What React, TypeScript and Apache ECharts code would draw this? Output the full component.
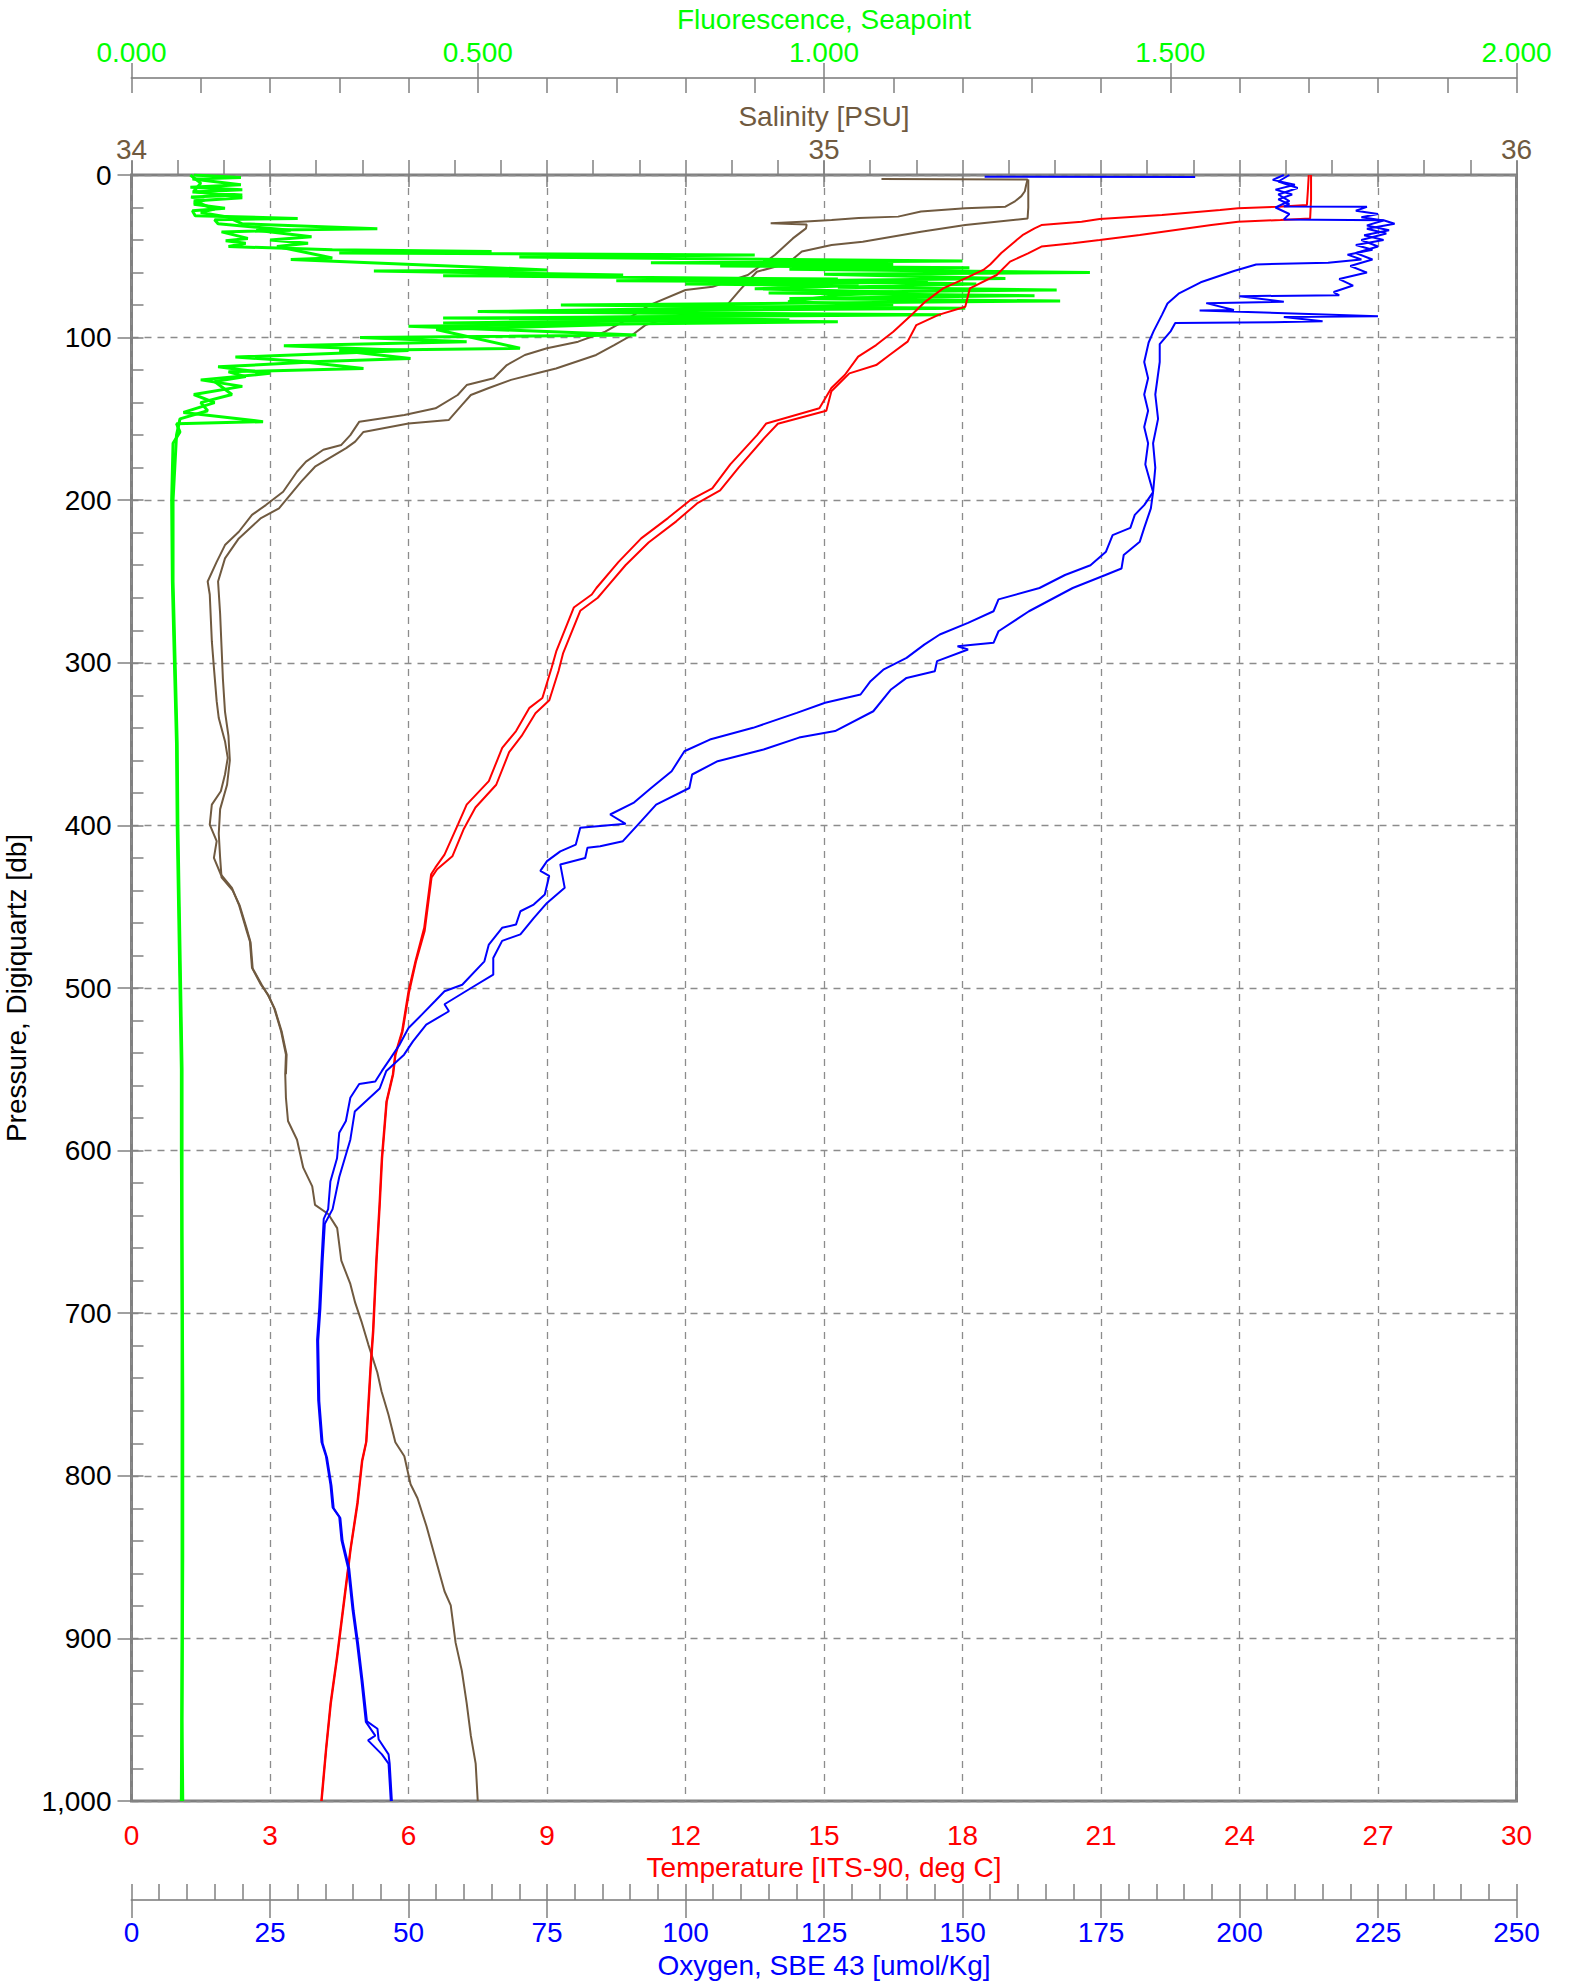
import React, { useEffect, useRef } from "react";
import * as echarts from "echarts";

// ---- Axis ranges ----
const TEMP_RANGE = [0, 30];
const OXY_RANGE = [0, 250];
const SAL_RANGE = [34, 36];
const FLU_RANGE = [0, 2];
const PRES_RANGE = [0, 1000];

// ---- Series data: [value, pressure] ----
const TEMP_DOWN: number[][] = [
  [25.5, 0], [25.48, 10], [25.46, 18.5], [24.84, 19.5], [23.97, 20.5], [23.58, 21.5], [22.32, 24.6], [20.97, 27],
  [20.58, 28.7], [19.71, 30.8], [19.56, 32.8], [19.3, 37], [19.13, 41], [18.84, 48], [18.6, 55], [18.45, 58.4],
  [18.06, 63.6], [17.58, 69.7], [17.19, 78], [16.9, 86], [16.5, 96.4], [16.13, 104.6], [15.74, 111.7], [15.45, 123],
  [15.16, 131], [14.9, 143.5], [13.75, 152.8], [13.55, 160], [12.97, 178], [12.58, 192.7], [12.1, 200], [11.62, 211],
  [11.04, 223.5], [10.55, 237.9], [10.07, 254], [9.97, 258], [9.58, 266], [9.2, 293], [9.1, 303], [8.9, 321.6],
  [8.62, 327.7], [8.33, 342], [8.03, 352.3], [7.74, 372.8], [7.26, 387.2], [7.07, 399.5], [6.78, 418], [6.58, 426],
  [6.49, 430], [6.34, 463], [6.15, 483.6], [6.0, 502], [5.86, 526.6], [5.71, 541], [5.66, 553], [5.52, 570],
  [5.42, 604.7], [5.37, 633], [5.3, 667.7], [5.23, 710.7], [5.18, 730.7], [5.08, 779.4], [4.99, 790.9], [4.89, 816.7],
  [4.74, 845.3], [4.6, 876.8], [4.45, 911], [4.31, 939.8], [4.21, 968.4], [4.11, 1000],
];
const TEMP_UP: number[][] = [
  [25.55, 0], [25.55, 15], [25.53, 26.7], [24.89, 27.7], [23.97, 28.7], [23.39, 30.8], [21.84, 36.9], [20.97, 40],
  [20.39, 42], [19.71, 44], [19.42, 48.2], [19.03, 53.3], [18.74, 61.5], [18.16, 69.7], [18.06, 81], [17.48, 86],
  [17.0, 92.3], [16.81, 102.5], [16.42, 110.7], [16.13, 116.9], [15.55, 122], [15.16, 133], [15.05, 145], [14.0, 153],
  [13.7, 162], [13.15, 180], [12.75, 194], [12.25, 202], [11.8, 213], [11.2, 226], [10.7, 240], [10.25, 255],
  [10.1, 260], [9.72, 268], [9.35, 294], [9.25, 305], [9.05, 323], [8.75, 331], [8.45, 345], [8.18, 355],
  [7.9, 375], [7.45, 389], [7.2, 402], [6.95, 419], [6.62, 427], [6.5, 432], [6.35, 465], [6.16, 484], [6.01, 503],
  [5.87, 527], [5.72, 541], [5.67, 553], [5.53, 570], [5.43, 605], [5.38, 633], [5.31, 668], [5.24, 711], [5.19, 731],
  [5.09, 779], [5.0, 791], [4.9, 817], [4.75, 845], [4.61, 877], [4.46, 911], [4.32, 940], [4.22, 968], [4.12, 1000],
];

const OXY_SURFACE: number[][] = [[154, 1], [192, 1.3]];
const OXY_DOWN: number[][] = [
  [208, 0], [206, 3], [210, 6], [206.5, 9], [209.5, 12], [207, 15], [209, 18], [208, 19.3], [223, 19.6], [221, 22],
  [225, 24], [222, 26], [226, 28], [223, 31], [227, 34], [222.5, 37], [226, 40], [221, 43], [224, 46], [219.5, 49],
  [222, 52], [216, 54], [203, 55], [199, 59], [193, 66], [189, 73], [187, 79], [186, 86], [184.5, 96], [183.6, 103],
  [182.8, 115], [183.5, 125], [182.8, 135], [183.5, 145], [182.8, 155], [183.5, 165], [183, 178], [184.4, 195],
  [182.8, 203], [181.1, 209], [180.3, 217], [177.1, 221.5], [175.9, 231.7], [173.1, 240], [168.5, 246], [163.9, 254],
  [156.5, 261], [155.6, 268.3], [151, 275.4], [145.9, 282.6], [143.1, 288.8], [139.9, 297], [135.8, 304],
  [133.4, 311.3], [131.6, 319.5], [125.2, 324.6], [120.1, 330.8], [112.2, 340], [104.4, 347.2], [99.8, 354.4],
  [97.5, 366.7], [93.8, 377], [90.6, 386.2], [86.4, 393.3], [89.2, 399], [81, 401.5], [80.2, 411.8], [77.4, 416],
  [75, 422], [73.8, 428], [75.4, 431], [74.6, 442.5], [72.6, 448.7], [70.2, 452.8], [69.4, 461], [66.9, 463],
  [64.5, 473.3], [63.7, 483.6], [59.7, 498], [56.5, 502], [54.8, 508], [52.4, 516.4], [50, 524.6], [48.4, 534.8],
  [46.8, 543], [45.2, 551], [44, 557.5], [41.1, 559], [39.5, 567.5], [38.7, 581.8], [37.5, 589], [37.1, 604.7],
  [35.9, 619], [35.5, 636], [34.7, 642], [34.3, 667.7], [33.9, 696.4], [33.5, 716.4], [33.7, 753.7], [34.3, 779.4],
  [35.1, 788], [35.9, 805.2], [36.3, 819.5], [37.5, 825.3], [37.9, 839.6], [39.1, 856.8], [39.9, 882.5],
  [40.7, 902.6], [41.5, 925.5], [42.3, 951.3], [44, 959.8], [42.7, 962.7], [45.2, 971.3], [46.4, 977], [46.8, 1000],
];
const OXY_UP: number[][] = [
  [209, 0], [207, 4], [210.5, 8], [207, 12], [209, 16], [206.5, 20], [209, 24], [208, 27.3], [226, 27.8], [228, 30],
  [223, 33], [226.5, 36], [222, 40], [225, 44], [221, 48], [224, 52], [220, 56], [223, 60], [218, 64], [220.5, 68],
  [217, 72], [218, 74], [200, 74.5], [208, 78], [194, 78.8], [199, 83], [192.8, 83.3], [225, 86.8], [208, 87.3],
  [215, 90], [206, 90.5], [188.4, 91], [187.6, 96], [185.6, 104], [185.6, 115], [184.8, 135], [185.3, 150],
  [184.4, 165], [184.8, 180], [184.4, 195], [184, 205], [182.8, 217], [182, 225.5], [179.1, 233.7], [178.7, 242],
  [175.8, 246], [169.9, 254], [162, 268.3], [156.5, 280.6], [155.6, 287.7], [149.1, 289.8], [151, 291.8],
  [145.4, 299], [145, 305.2], [139.9, 309.3], [137.1, 316.4], [133.9, 329.8], [127, 342], [120.5, 346],
  [114.1, 353.3], [105.8, 360.5], [101.2, 368.7], [100.7, 377], [94.7, 387.2], [92, 397.4], [88.7, 409.7],
  [84.6, 412.8], [82.3, 413.8], [81.9, 420], [77.4, 424], [78.2, 438.4], [75, 447.7], [72.6, 457], [70.2, 467],
  [66.9, 471], [65.3, 481.5], [65.3, 491.8], [61.3, 500], [56.5, 510], [57.3, 514.3], [53.2, 522.5], [50.8, 532.8],
  [49.2, 541], [46, 551], [44.8, 561.8], [40.3, 576], [39.5, 593.3], [37.5, 616.2], [36.3, 636], [34.9, 645],
  [34.5, 668], [34.1, 697], [33.7, 717], [33.9, 754], [34.5, 780], [35.3, 789], [36.1, 806], [36.5, 820],
  [37.7, 826], [38.1, 840], [39.3, 857], [40.1, 883], [40.9, 903], [41.7, 926], [42.5, 951], [44.4, 955.6],
  [44.6, 962], [46.4, 971.3], [46.6, 977], [47, 1000],
];

const SAL_DOWN: number[][] = [
  [35.083, 2.5], [35.294, 2.8], [35.292, 6], [35.29, 10], [35.285, 13], [35.275, 16.4], [35.262, 19.5],
  [35.204, 20.5], [35.14, 22.5], [35.107, 25.6], [35.05, 26.5], [35.011, 27.7], [34.968, 28.7], [34.923, 29.7],
  [34.975, 30.5], [34.974, 32.8], [34.955, 39], [34.929, 49.2], [34.903, 57.4], [34.89, 61.5], [34.839, 68.7],
  [34.8, 70.7], [34.748, 80], [34.71, 90.2], [34.684, 96.4], [34.645, 102.5], [34.6, 106.6], [34.568, 110.7],
  [34.542, 116.9], [34.523, 125], [34.484, 129.2], [34.471, 135.3], [34.439, 143.5], [34.394, 147.6],
  [34.329, 151.7], [34.316, 160], [34.303, 166], [34.277, 169], [34.252, 176.3], [34.239, 182.5], [34.219, 194.8],
  [34.194, 203], [34.174, 209], [34.155, 219.4], [34.135, 227.6], [34.123, 237.9], [34.11, 250], [34.113, 258],
  [34.116, 286.7], [34.119, 303], [34.123, 323.6], [34.126, 334], [34.135, 348.2], [34.139, 358.5],
  [34.135, 368.7], [34.129, 379], [34.116, 387.2], [34.113, 399.5], [34.123, 409.7], [34.119, 420],
  [34.129, 430.2], [34.145, 438.4], [34.155, 448.7], [34.165, 463], [34.171, 471.3], [34.174, 487.6],
  [34.187, 498], [34.197, 504], [34.206, 512.3], [34.216, 526.6], [34.223, 541], [34.222, 553], [34.223, 567.5],
  [34.226, 581.8], [34.239, 593.3], [34.248, 610.5], [34.261, 622], [34.265, 633.4], [34.284, 639],
  [34.297, 647.7], [34.303, 667.7], [34.316, 682], [34.323, 693.5], [34.332, 705], [34.342, 719.3],
  [34.355, 736.5], [34.361, 748], [34.371, 762.3], [34.381, 779.4], [34.394, 788], [34.403, 805.2],
  [34.413, 813.8], [34.426, 831], [34.439, 851], [34.452, 871], [34.461, 879.7], [34.468, 902.6],
  [34.477, 919.8], [34.484, 939.8], [34.49, 959.8], [34.497, 977], [34.5, 1000],
];
const SAL_UP: number[][] = [
  [35.295, 2.8], [35.295, 10], [35.295, 20], [35.294, 26.7], [35.204, 30.8], [35.14, 34.9], [35.056, 41],
  [35.011, 43], [34.968, 47], [34.948, 54.3], [34.903, 59.5], [34.88, 70], [34.858, 81], [34.832, 82],
  [34.774, 88], [34.742, 92.3], [34.723, 98.4], [34.697, 104.6], [34.671, 110.7], [34.613, 119], [34.594, 121],
  [34.548, 126], [34.516, 131], [34.49, 135.3], [34.477, 141.5], [34.458, 150.7], [34.4, 152.8], [34.335, 158],
  [34.323, 164], [34.31, 168], [34.265, 179.4], [34.245, 188.6], [34.213, 205], [34.187, 211], [34.155, 223.5],
  [34.135, 235.8], [34.125, 250], [34.128, 270], [34.13, 290], [34.132, 310], [34.135, 330], [34.14, 345],
  [34.142, 360], [34.138, 375], [34.128, 390], [34.126, 405], [34.128, 420], [34.13, 432], [34.146, 440],
  [34.156, 449], [34.166, 463], [34.172, 472], [34.175, 488], [34.188, 498], [34.198, 505], [34.207, 513],
  [34.217, 527], [34.224, 541], [34.223, 553],
];

const FLU_DOWN: number[][] = [
  [0.09, 0], [0.158, 1.5], [0.088, 2.5], [0.158, 6], [0.085, 7.5], [0.16, 9], [0.088, 10.5], [0.16, 12.3],
  [0.086, 13.5], [0.105, 15.5], [0.09, 18], [0.135, 20.5], [0.088, 22], [0.092, 25], [0.24, 26.7], [0.12, 27.5],
  [0.125, 30], [0.23, 34], [0.13, 35], [0.168, 39], [0.136, 40.5], [0.165, 42], [0.14, 44], [0.29, 46],
  [0.52, 47], [0.3, 48], [0.9, 49.2], [0.56, 50.5], [1.2, 52.9], [0.75, 54], [1.1, 55], [0.85, 56], [1.21, 57],
  [0.95, 58], [1.384, 59.9], [1.0, 61], [1.262, 63.6], [0.96, 65], [1.22, 67], [1.02, 69], [1.336, 70.7],
  [0.92, 72.5], [1.304, 74.2], [0.95, 76], [1.341, 77.5], [0.62, 80], [1.204, 82], [0.5, 84], [1.169, 86],
  [0.45, 88], [1.02, 90.2], [0.4, 93], [0.729, 98.4], [0.33, 100], [0.484, 102.5], [0.22, 105], [0.4, 108],
  [0.15, 112], [0.26, 115], [0.125, 118], [0.2, 122], [0.1, 126], [0.16, 130], [0.09, 135], [0.12, 140],
  [0.075, 146], [0.19, 151.7], [0.065, 153], [0.07, 158], [0.06, 165], [0.058, 200], [0.059, 250],
  [0.062, 300], [0.065, 350], [0.066, 400], [0.068, 450], [0.07, 500], [0.072, 550], [0.072, 600],
  [0.073, 700], [0.073, 800], [0.073, 900], [0.072, 1000],
];
const FLU_UP: number[][] = [
  [0.085, 0], [0.1, 5], [0.09, 10], [0.16, 14], [0.09, 16], [0.12, 21], [0.1, 23], [0.14, 26], [0.16, 30],
  [0.355, 33], [0.18, 34], [0.26, 38], [0.2, 40], [0.255, 42], [0.21, 44], [0.29, 51], [0.23, 52], [0.6, 58.4],
  [0.35, 59], [0.71, 61.5], [0.45, 62], [1.02, 64], [0.7, 65], [1.15, 66], [0.8, 67], [1.05, 68], [0.9, 70],
  [1.1, 72], [1.02, 74], [0.948, 78], [1.1, 80], [0.51, 84], [1.0, 86], [0.6, 88], [0.95, 89], [0.45, 91],
  [0.7, 92], [0.44, 95], [0.561, 106.6], [0.3, 108], [0.403, 112.8], [0.25, 115], [0.335, 119], [0.14, 121],
  [0.165, 124], [0.12, 127], [0.145, 135], [0.1, 140], [0.11, 145], [0.07, 150], [0.065, 160], [0.06, 200],
  [0.06, 250], [0.063, 300], [0.066, 350], [0.067, 400], [0.069, 450], [0.071, 500], [0.073, 550],
  [0.073, 650], [0.074, 750], [0.074, 850], [0.073, 950], [0.074, 1000],
];

const RED = "#ff0000";
const BLUE = "#0000ff";
const GREEN = "#00ff00";
const BROWN = "#705a40";
const GRAY = "#808080";
const FONT = "'Liberation Sans', Arial, sans-serif";

export default function App() {
  const ref = useRef<HTMLDivElement>(null);
  useEffect(() => {
    document.body.style.margin = "0";
    const chart = echarts.init(ref.current!, undefined, { renderer: "svg" });
    const txt = (color: string) => ({ color, fontSize: 28, fontFamily: FONT });
    const tickStyle = { color: GRAY, width: 1.5 };
    const line = (data: number[][], color: string, xi: number, w = 2) => ({
      type: "line",
      data,
      xAxisIndex: xi,
      yAxisIndex: 0,
      showSymbol: false,
      symbol: "none",
      lineStyle: { color, width: w },
      itemStyle: { color },
      silent: true,
      z: 3,
    });
    chart.setOption({
      animation: false,
      backgroundColor: "#ffffff",
      textStyle: { fontFamily: FONT },
      grid: {
        left: 131.5,
        top: 175,
        width: 1385,
        height: 1626,
        show: true,
        borderColor: GRAY,
        borderWidth: 3,
        backgroundColor: "transparent",
        outerBoundsMode: "none",
      },
      xAxis: [
        {
          type: "value", position: "bottom", min: TEMP_RANGE[0], max: TEMP_RANGE[1], interval: 3,
          axisLine: { show: false },
          axisTick: { show: true, inside: false, length: 12, lineStyle: tickStyle },
          axisLabel: { ...txt(RED), margin: 20 },
          splitLine: { show: true, lineStyle: { color: "#8c8c8c", type: [7, 6], width: 1.3 } },
          name: "Temperature [ITS-90, deg C]", nameLocation: "middle", nameGap: 52,
          nameTextStyle: txt(RED),
        },
        {
          type: "value", position: "bottom", min: TEMP_RANGE[0], max: TEMP_RANGE[1], interval: 1,
          axisLine: { show: false },
          axisTick: { show: true, inside: true, length: 15, lineStyle: tickStyle },
          axisLabel: { show: false }, splitLine: { show: false },
        },
        {
          type: "value", position: "bottom", offset: 99, min: OXY_RANGE[0], max: OXY_RANGE[1], interval: 5,
          axisLine: { show: true, lineStyle: { color: "#999999", width: 2 } },
          axisTick: { show: true, inside: true, length: 16, lineStyle: tickStyle },
          axisLabel: { show: false }, splitLine: { show: false },
        },
        {
          type: "value", position: "bottom", offset: 99, min: OXY_RANGE[0], max: OXY_RANGE[1], interval: 25,
          axisLine: { show: false },
          axisTick: { show: true, inside: false, length: 18, lineStyle: tickStyle },
          axisLabel: { ...txt(BLUE), margin: 18 },
          splitLine: { show: false },
          name: "Oxygen, SBE 43 [umol/Kg]", nameLocation: "middle", nameGap: 51,
          nameTextStyle: txt(BLUE),
        },
        {
          type: "value", position: "top", offset: 0, min: SAL_RANGE[0], max: SAL_RANGE[1], interval: 1,
          axisLine: { show: false },
          axisTick: { show: true, inside: false, length: 14, lineStyle: tickStyle },
          axisLabel: { ...txt(BROWN), margin: 12 },
          splitLine: { show: false },
          name: "Salinity [PSU]", nameLocation: "middle", nameGap: 43,
          nameTextStyle: txt(BROWN),
        },
        {
          type: "value", position: "top", offset: 97, min: FLU_RANGE[0], max: FLU_RANGE[1], interval: 0.1,
          axisLine: { show: true, lineStyle: { color: "#999999", width: 2 } },
          axisTick: { show: true, inside: true, length: 15, lineStyle: tickStyle },
          axisLabel: { show: false }, splitLine: { show: false },
        },
        {
          type: "value", position: "top", offset: 97, min: FLU_RANGE[0], max: FLU_RANGE[1], interval: 0.5,
          axisLine: { show: false },
          axisTick: { show: true, inside: false, length: 15, lineStyle: tickStyle },
          axisLabel: { ...txt(GREEN), margin: 12, formatter: (v: number) => v.toFixed(3) },
          splitLine: { show: false },
          name: "Fluorescence, Seapoint", nameLocation: "middle", nameGap: 42,
          nameTextStyle: txt(GREEN),
        },
      ],
      yAxis: [
        {
          type: "value", position: "left", inverse: true, min: PRES_RANGE[0], max: PRES_RANGE[1], interval: 100,
          axisLine: { show: false },
          axisTick: { show: true, inside: false, length: 14, lineStyle: tickStyle },
          axisLabel: {
            ...txt("#000000"), margin: 20,
            formatter: (v: number) => v.toLocaleString("en-US"),
          },
          splitLine: { show: true, lineStyle: { color: "#8c8c8c", type: [7, 6], width: 1.3 } },
          name: "Pressure, Digiquartz [db]", nameLocation: "middle", nameGap: 87, nameRotate: 90,
          nameTextStyle: txt("#000000"),
        },
        {
          type: "value", position: "left", inverse: true, min: PRES_RANGE[0], max: PRES_RANGE[1], interval: 20,
          axisLine: { show: false },
          axisTick: { show: true, inside: true, length: 12, lineStyle: tickStyle },
          axisLabel: { show: false }, splitLine: { show: false },
        },
      ],
      series: [
        line(SAL_DOWN, BROWN, 4),
        line(SAL_UP, BROWN, 4),
        line(FLU_DOWN, GREEN, 6, 3),
        line(FLU_UP, GREEN, 6, 3),
        line(TEMP_DOWN, RED, 0),
        line(TEMP_UP, RED, 0),
        line(OXY_SURFACE, BLUE, 3),
        line(OXY_DOWN, BLUE, 3),
        line(OXY_UP, BLUE, 3),
      ],
    });
    return () => chart.dispose();
  }, []);
  return (
    <div
      ref={ref}
      style={{ position: "absolute", left: 0, top: 0, width: 1570, height: 1984, overflow: "hidden" }}
    />
  );
}
